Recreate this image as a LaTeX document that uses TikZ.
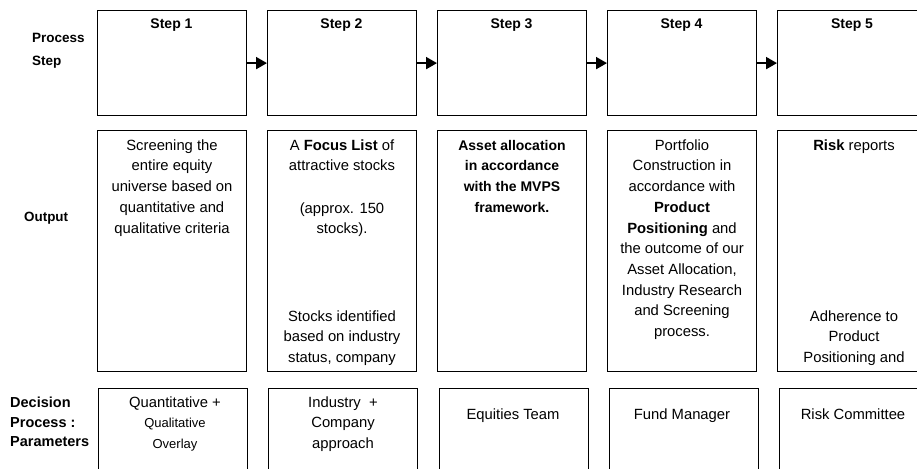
\documentclass[tikz,border=0pt]{standalone}
\usepackage{fontspec}
\setmainfont{Liberation Sans}
\usetikzlibrary{arrows.meta}
\newcommand\fl{\rule{0pt}{11pt}}
\newcommand\flb{\rule{0pt}{10pt}}
\begin{document}
\begin{tikzpicture}[x=1pt,y=-1pt,
  stepbox/.style={draw=black,line width=1.2pt,minimum width=148.5pt,minimum height=105pt,anchor=north west,inner sep=0pt},
  outbox/.style={draw=black,line width=1.2pt,minimum width=148.5pt,minimum height=241pt,anchor=north west,inner sep=0pt},
  parbox/.style={draw=black,line width=1.2pt,minimum width=149pt,minimum height=110pt,anchor=north west,inner sep=0pt},
  body/.style={align=center,inner sep=0pt,anchor=north,text=black,font=\fontsize{14.8}{20.7}\selectfont},
  title/.style={inner sep=0pt,anchor=base,text=black,font=\fontsize{14}{17}\selectfont\bfseries},
  lab/.style={align=left,inner sep=0pt,anchor=north west,text=black},
  arr/.style={line width=2pt,-{Triangle[length=11pt,width=12pt]}}
]
\useasboundingbox (0,0) rectangle (917,468);
\clip (0,0) rectangle (917,468);

% left labels
\node[lab,font=\fontsize{13.5}{23}\selectfont\bfseries] (lproc) at (32,32.7) {\flb Process\\Step};
\node[inner sep=0pt,anchor=base west,font=\fontsize{13.4}{16}\selectfont\bfseries] (lout) at (24,221.7) {Output};
\node[lab,font=\fontsize{14.5}{19.5}\selectfont\bfseries] (ldec) at (10,397.2) {\flb Decision\\Process :\\Parameters};

% row 1: steps
\node[stepbox] (s1) at (97,10) {};
\node[stepbox] (s2) at (267,10) {};
\node[stepbox] (s3) at (437,10) {};
\node[stepbox] (s4) at (607,10) {};
\node[stepbox] (s5) at (777,10) {};
\node[title] (t1) at (171.5,29) {Step 1};
\node[title] (t2) at (341.5,29) {Step 2};
\node[title] (t3) at (511.5,29) {Step 3};
\node[title] (t4) at (681.5,29) {Step 4};
\node[title] (t5) at (852,29) {Step 5};
\draw[arr] (s1.east) -- (s2.west);
\draw[arr] (s2.east) -- (s3.west);
\draw[arr] (s3.east) -- (s4.west);
\draw[arr] (s4.east) -- (s5.west);

% row 2: output
\node[outbox] (o1) at (97,130) {};
\node[outbox] (o2) at (267,130) {};
\node[outbox] (o3) at (437,130) {};
\node[outbox] (o4) at (607,130) {};
\node[outbox] (o5) at (777,130) {};

\node[body] (o1t) at (172,139) {\fl Screening the\\entire equity\\universe based on\\quantitative and\\qualitative criteria};
\node[body] (o2a) at (342,139) {\fl A \textbf{Focus List} of\\attractive stocks\\[21.5pt](approx. 150\\stocks).};
\node[body] (o2b) at (342,310) {\fl Stocks identified\\based on industry\\status, company};
\node[body,font=\fontsize{14}{20.7}\selectfont\bfseries] (o3t) at (512,139) {\fl Asset allocation\\in accordance\\with the MVPS\\framework.};
\node[body] (o4t) at (682,139) {\fl Portfolio\\Construction in\\accordance with\\\textbf{Product}\\\textbf{Positioning} and\\the outcome of our\\Asset Allocation,\\Industry Research\\and Screening\\process.};
\node[body] (o5a) at (854,139) {\fl \textbf{Risk} reports};
\node[body] (o5b) at (854,310) {\fl Adherence to\\Product\\Positioning and};

% row 3: decision parameters
\node[parbox] (p1) at (98,388) {};
\node[parbox] (p2) at (268,388) {};
\node[parbox] (p3) at (438.5,388) {};
\node[parbox] (p4) at (609,388) {};
\node[parbox] (p5) at (779,388) {};

\node[body,font=\fontsize{14.8}{20.5}\selectfont] (p1t) at (175,396) {\fl Quantitative +\\{\fontsize{13}{15}\selectfont Qualitative}\\{\fontsize{13}{15}\selectfont Overlay}};
\node[body,font=\fontsize{14.8}{20.5}\selectfont] (p2t) at (343,396) {\fl Industry\ \ +\\Company\\approach};
\node[body] (p3t) at (513,408) {\fl Equities Team};
\node[body] (p4t) at (682,408) {\fl Fund Manager};
\node[body] (p5t) at (853,408) {\fl Risk Committee};
\end{tikzpicture}
\end{document}
